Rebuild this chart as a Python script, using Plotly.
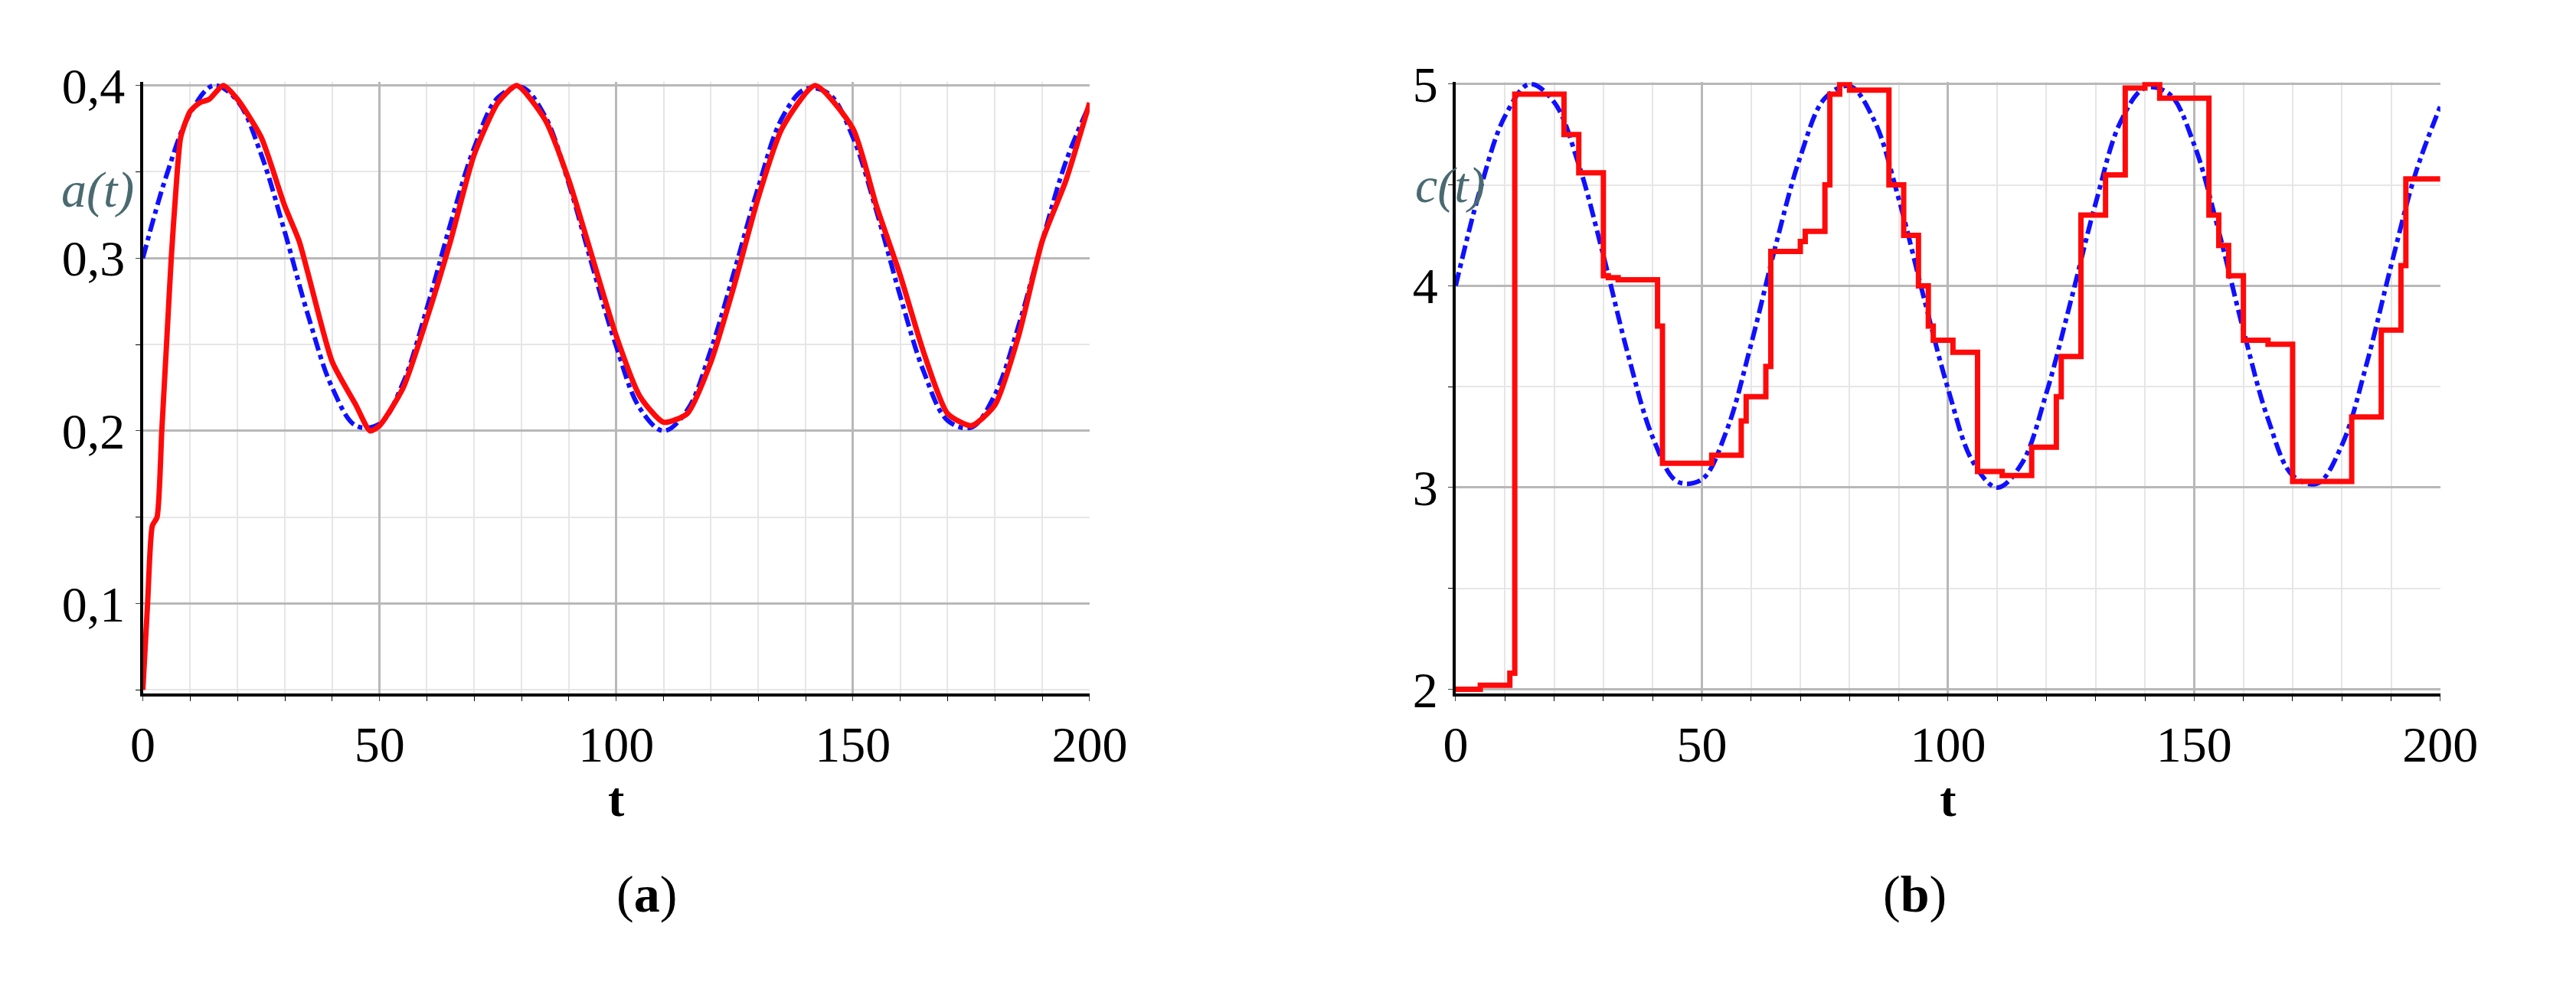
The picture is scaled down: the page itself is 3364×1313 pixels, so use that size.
import plotly.graph_objects as go

# blue reference curves (read every 5 t)
t_ref = list(range(0, 201, 5))
a_ref = [0.300, 0.348, 0.384, 0.400, 0.391, 0.360, 0.315, 0.266, 0.225, 0.203, 0.204,
         0.228, 0.271, 0.320, 0.364, 0.393, 0.399, 0.382, 0.343, 0.295, 0.249, 0.213,
         0.200, 0.212, 0.247, 0.293, 0.341, 0.381, 0.398, 0.395, 0.370, 0.327, 0.278,
         0.234, 0.206, 0.202, 0.221, 0.261, 0.310, 0.356, 0.389]
c_ref = [4.00, 4.48, 4.84, 5.00, 4.91, 4.60, 4.15, 3.66, 3.25, 3.03, 3.04,
         3.28, 3.71, 4.20, 4.64, 4.93, 4.99, 4.82, 4.43, 3.95, 3.49, 3.13,
         3.00, 3.12, 3.47, 3.93, 4.41, 4.81, 4.98, 4.95, 4.70, 4.27, 3.78,
         3.34, 3.06, 3.02, 3.21, 3.61, 4.10, 4.56, 4.89]

# red simulated a(t)
t_a = [0, 1, 2, 3, 4, 5, 6, 7, 8, 10, 12, 14, 17, 20, 25, 30, 33, 35, 40, 45, 48, 50,
       55, 60, 65, 70, 75, 79, 85, 90, 95, 100, 105, 110, 115, 120, 125, 130, 135, 142,
       150, 155, 160, 165, 170, 175, 180, 185, 190, 195, 200]
a_sim = [0.05, 0.10, 0.145, 0.15, 0.20, 0.25, 0.30, 0.34, 0.37, 0.385, 0.39, 0.392, 0.40,
         0.392, 0.37, 0.33, 0.31, 0.29, 0.24, 0.215, 0.20, 0.203, 0.225, 0.265, 0.31, 0.36,
         0.39, 0.40, 0.38, 0.345, 0.30, 0.255, 0.22, 0.205, 0.21, 0.24, 0.285, 0.335, 0.375,
         0.40, 0.375, 0.33, 0.29, 0.245, 0.21, 0.203, 0.215, 0.255, 0.31, 0.345, 0.39]

# red simulated c(t), piecewise constant
t_c = [0, 5, 11, 12, 22, 25, 30, 31, 33, 41, 42, 52, 58, 59, 63, 64, 70, 71, 75, 76, 78,
       80, 88, 91, 94, 96, 97, 101, 106, 111, 117, 122, 123, 127, 132, 136, 140, 143, 153,
       155, 157, 160, 165, 170, 182, 188, 192, 193, 200]
c_sim = [2.00, 2.02, 2.08, 4.95, 4.75, 4.56, 4.05, 4.04, 4.03, 3.80, 3.12, 3.16, 3.33, 3.45,
         3.60, 4.17, 4.22, 4.27, 4.50, 4.95, 5.00, 4.97, 4.50, 4.25, 4.00, 3.80, 3.73, 3.67,
         3.08, 3.06, 3.20, 3.45, 3.65, 4.35, 4.55, 4.98, 5.00, 4.93, 4.35, 4.20, 4.05, 3.73,
         3.71, 3.03, 3.35, 3.78, 4.10, 4.53, 4.53]

a_ticks = [0.1, 0.2, 0.3, 0.4]
a_labels = ["0,1", "0,2", "0,3", "0,4"]
c_ticks = [2, 3, 4, 5]
x_ticks = [0, 50, 100, 150, 200]

serif = "Liberation Serif"
blue = "#1010ff"
red = "#ff0a0a"

fig = go.Figure()
fig.add_trace(go.Scatter(x=t_ref, y=a_ref, mode="lines", line=dict(color=blue, width=6, dash="dashdot", shape="spline"), xaxis="x", yaxis="y"))
fig.add_trace(go.Scatter(x=t_a, y=a_sim, mode="lines", line=dict(color=red, width=7, shape="spline", smoothing=0.6), xaxis="x", yaxis="y"))
fig.add_trace(go.Scatter(x=t_ref, y=c_ref, mode="lines", line=dict(color=blue, width=6, dash="dashdot", shape="spline"), xaxis="x2", yaxis="y2"))
fig.add_trace(go.Scatter(x=t_c, y=c_sim, mode="lines", line=dict(color=red, width=7, shape="hv"), xaxis="x2", yaxis="y2"))

xcommon = dict(range=[0, 200], tickvals=x_ticks, showgrid=True, gridcolor="#b8b8b8", gridwidth=3,
               minor=dict(dtick=10, showgrid=True, gridcolor="#e6e6e6", gridwidth=2, ticks="outside", ticklen=6, tickcolor="black"),
               ticks="outside", ticklen=6, showline=True, linecolor="black", linewidth=4, zeroline=False,
               tickfont=dict(family=serif, size=66, color="black"),
               title=dict(text="<b>t</b>", font=dict(family=serif, size=64, color="black"), standoff=12))
ycommon = dict(showgrid=True, gridcolor="#b8b8b8", gridwidth=3, ticks="outside", ticklen=6,
               showline=True, linecolor="black", linewidth=4, zeroline=False,
               tickfont=dict(family=serif, size=66, color="black"))

fig.update_layout(
    width=3364, height=1313, showlegend=False,
    paper_bgcolor="white", plot_bgcolor="white",
    margin=dict(l=0, r=0, t=0, b=0),
    xaxis=dict(domain=[0.049, 0.424], anchor="y", **xcommon),
    yaxis=dict(domain=[0.307, 0.947], anchor="x", range=[0.048, 0.402], tickvals=a_ticks, ticktext=a_labels,
               minor=dict(dtick=0.05, tick0=0.05, showgrid=True, gridcolor="#e6e6e6", gridwidth=2, ticks="outside", ticklen=6, tickcolor="black"),
               **ycommon),
    xaxis2=dict(domain=[0.569, 0.959], anchor="y2", **xcommon),
    yaxis2=dict(domain=[0.307, 0.947], anchor="x2", range=[1.98, 5.01], tickvals=c_ticks,
                minor=dict(dtick=0.5, showgrid=True, gridcolor="#e6e6e6", gridwidth=2, ticks="outside", ticklen=6, tickcolor="black"),
                **ycommon),
    annotations=[
        dict(text="<i>a(t)</i>", x=0.046, y=0.865, xref="paper", yref="paper", xanchor="right", showarrow=False,
             font=dict(family=serif, size=66, color="#4a6a70")),
        dict(text="<i>c(t)</i>", x=0.567, y=0.87, xref="paper", yref="paper", xanchor="center", showarrow=False,
             font=dict(family=serif, size=66, color="#4a6a70")),
        dict(text="(<b>a</b>)", x=0.236, y=0.065, xref="paper", yref="paper", showarrow=False,
             font=dict(family=serif, size=68, color="black")),
        dict(text="(<b>b</b>)", x=0.764, y=0.065, xref="paper", yref="paper", showarrow=False,
             font=dict(family=serif, size=68, color="black")),
    ],
)

fig.write_html("out.html")
